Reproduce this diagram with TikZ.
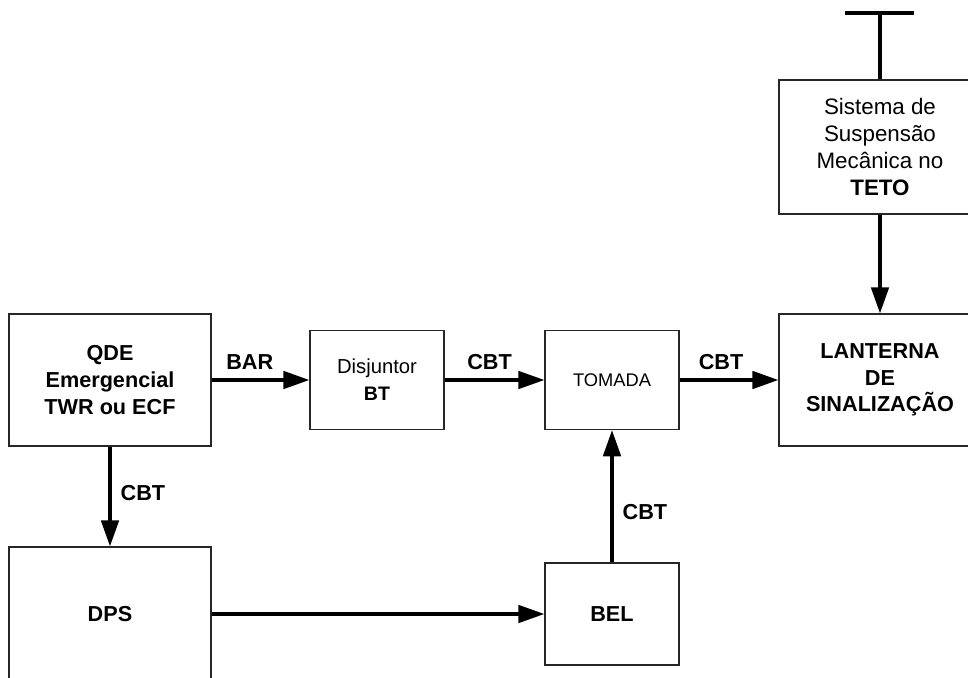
\documentclass[tikz,border=0pt]{standalone}
\usepackage{fontspec}
\setmainfont{Liberation Sans}
\usetikzlibrary{arrows.meta}

\begin{document}
\begin{tikzpicture}[x=0.025cm, y=-0.025cm,
  box/.style={draw=black!85, line width=0.9pt, inner sep=0pt, align=center,
              font=\fontsize{15.4}{19}\selectfont\bfseries},
  big/.style={box, minimum width=5.05cm, minimum height=3.3cm},
  small/.style={box, minimum width=3.35cm, minimum height=2.48cm},
  arr/.style={-{Triangle[length=18.5pt,width=12.5pt]}, line width=2.2pt},
  lbl/.style={font=\fontsize{15.4}{19}\selectfont\bfseries, inner sep=6.5pt}
]
  \useasboundingbox (0,0) rectangle (968,678);

  % Nodes
  \node[big] (qde) at (110,380) {QDE\\Emergencial\\TWR ou ECF};
  \node[small, font=\fontsize{14.4}{19}\selectfont] (disj) at (377,380)
       {Disjuntor\\{\fontsize{13.9}{19}\selectfont\bfseries BT}};
  \node[small, font=\fontsize{13}{19}\selectfont] (tomada) at (612,380) {TOMADA};
  \node[big] (lanterna) at (880,380) {LANTERNA\\DE\\SINALIZAÇÃO};
  \node[big, minimum height=3.35cm, font=\fontsize{15.9}{19}\selectfont] (sistema) at (880,147)
       {Sistema de\\Suspensão\\Mecânica no\\{\bfseries TETO}};
  \node[big, minimum height=3.35cm] (dps) at (110,614) {DPS};
  \node[small, minimum height=2.55cm] (bel) at (612,614) {BEL};
  \coordinate (teto)  at (880,13);
  \coordinate (barL)  at (845,13);
  \coordinate (barR)  at (914,13);

  % Paths
  \draw[arr] (qde) -- node[lbl, above, pos=0.39] {BAR} (disj);
  \draw[arr] (disj) -- node[lbl, above, pos=0.45] {CBT} (tomada);
  \draw[arr] (tomada) -- node[lbl, above, pos=0.42] {CBT} (lanterna);
  \draw[arr] (qde) -- node[lbl, right, pos=0.47] {CBT} (dps);
  \draw[arr] (dps) -- (bel);
  \draw[arr] (bel) -- node[lbl, right, pos=0.38] {CBT} (tomada);
  \draw[arr] (sistema) -- (lanterna);
  \draw[line width=2.4pt] (sistema) -- (teto);
  \draw[line width=2.4pt] (barL) -- (barR);
\end{tikzpicture}
\end{document}
